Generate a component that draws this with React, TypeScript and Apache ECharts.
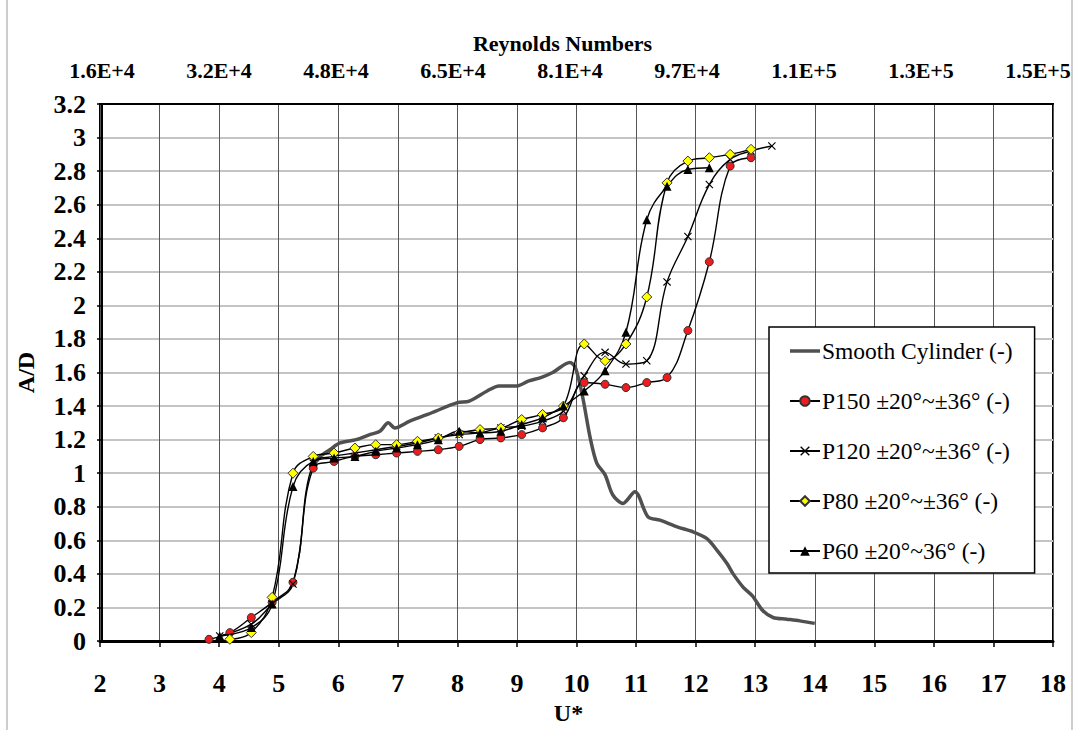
import React, { useEffect, useRef } from "react";
import * as echarts from "echarts";

// ---- data ----
const uSmooth = [5.55, 5.7, 5.86, 6.03, 6.3, 6.53, 6.7, 6.84, 6.95, 7.2, 7.5, 8.0, 8.2, 8.5, 8.7, 9.0, 9.2, 9.4, 9.6, 9.89, 9.98, 10.1, 10.23, 10.34, 10.48, 10.61, 10.78, 10.98, 11.2, 11.4, 11.69, 11.96, 12.19, 12.36, 12.53, 12.63, 12.8, 12.95, 13.13, 13.3, 13.53, 13.75, 14.0];
const adSmooth = [1.03, 1.1, 1.14, 1.18, 1.2, 1.23, 1.25, 1.3, 1.27, 1.31, 1.35, 1.42, 1.43, 1.49, 1.52, 1.52, 1.55, 1.57, 1.6, 1.66, 1.63, 1.46, 1.21, 1.06, 0.99, 0.87, 0.82, 0.89, 0.74, 0.72, 0.68, 0.65, 0.61, 0.54, 0.46, 0.4, 0.32, 0.27, 0.18, 0.14, 0.13, 0.12, 0.105];

const u150 = [3.83, 4.18, 4.54, 4.89, 5.24, 5.58, 5.93, 6.28, 6.63, 6.98, 7.33, 7.68, 8.03, 8.38, 8.73, 9.08, 9.43, 9.78, 10.13, 10.48, 10.83, 11.18, 11.52, 11.87, 12.23, 12.58, 12.93];
const ad150 = [0.01, 0.05, 0.14, 0.23, 0.35, 1.03, 1.07, 1.1, 1.11, 1.12, 1.13, 1.14, 1.16, 1.2, 1.21, 1.23, 1.27, 1.33, 1.54, 1.53, 1.51, 1.54, 1.57, 1.85, 2.26, 2.83, 2.88];

const u120 = [4.01, 4.54, 4.89, 5.24, 5.58, 5.93, 6.28, 6.63, 6.98, 7.33, 7.68, 8.03, 8.38, 8.73, 9.08, 9.43, 9.78, 10.13, 10.48, 10.83, 11.18, 11.52, 11.87, 12.23, 12.58, 12.93, 13.28];
const ad120 = [0.03, 0.1, 0.22, 0.34, 1.06, 1.1, 1.12, 1.14, 1.16, 1.18, 1.21, 1.23, 1.24, 1.27, 1.28, 1.31, 1.37, 1.58, 1.72, 1.65, 1.67, 2.14, 2.41, 2.72, 2.87, 2.92, 2.95];

const u80 = [4.18, 4.54, 4.89, 5.24, 5.58, 5.93, 6.28, 6.63, 6.98, 7.33, 7.68, 8.03, 8.38, 8.73, 9.08, 9.43, 9.78, 10.13, 10.48, 10.83, 11.18, 11.52, 11.87, 12.23, 12.58, 12.93];
const ad80 = [0.01, 0.05, 0.26, 1.0, 1.1, 1.12, 1.15, 1.17, 1.17, 1.19, 1.21, 1.24, 1.26, 1.27, 1.32, 1.35, 1.4, 1.77, 1.67, 1.77, 2.05, 2.73, 2.86, 2.88, 2.9, 2.93];

const u60 = [4.01, 4.54, 4.89, 5.24, 5.58, 5.93, 6.28, 6.63, 6.98, 7.33, 7.68, 8.03, 8.38, 8.73, 9.08, 9.43, 9.78, 10.13, 10.48, 10.83, 11.18, 11.52, 11.87, 12.23];
const ad60 = [0.03, 0.08, 0.22, 0.92, 1.07, 1.09, 1.1, 1.13, 1.15, 1.17, 1.2, 1.25, 1.24, 1.25, 1.29, 1.33, 1.4, 1.49, 1.61, 1.84, 2.51, 2.71, 2.81, 2.82];

const reynoldsLabels = ["1.6E+4", "3.2E+4", "4.8E+4", "6.5E+4", "8.1E+4", "9.7E+4", "1.1E+5", "1.3E+5", "1.5E+5"];
const reynoldsPositions = [0, 1, 2, 3, 4, 5, 6, 7, 8];

const seriesNames = ["Smooth Cylinder (-)", "P150 ±20°~±36° (-)", "P120 ±20°~±36° (-)", "P80 ±20°~±36° (-)", "P60 ±20°~36° (-)"];

const pairs = (u: number[], a: number[]) => u.map((x, i) => [x, a[i]]);

const FONT = "Liberation Serif";
const crossPath = "path://M0,1 L1,0 L5,4 L9,0 L10,1 L6,5 L10,9 L9,10 L5,6 L1,10 L0,9 L4,5 Z";
const thickLineIcon = "path://M0,0 L30,0 L30,3.5 L0,3.5 Z";

export default function App() {
  const ref = useRef<HTMLDivElement>(null);
  useEffect(() => {
    if (!ref.current) return;
    const chart = echarts.init(ref.current, null, { renderer: "svg" });
    const lineBlack = { color: "#000", width: 1.4 };
    const labelStyle = { fontFamily: FONT, fontSize: 26, fontWeight: "bold", color: "#000" };
    const nameStyle = { fontFamily: FONT, fontSize: 24, fontWeight: "bold", color: "#000" };
    const option: any = {
      animation: false,
      backgroundColor: "#fff",
      grid: { left: 100, right: 23, top: 104, bottom: 89, show: true, borderColor: "#000", borderWidth: 2, containLabel: false },
      graphic: [
        { type: "rect", shape: { x: 7, y: -2, width: 1065, height: 734 }, style: { fill: "none", stroke: "#bdbdbd", lineWidth: 1.5 }, silent: true },
      ],
      legend: {
        orient: "vertical",
        left: 769,
        top: 327,
        padding: [12, 22, 10, 20],
        itemGap: 26,
        itemWidth: 30,
        itemHeight: 12,
        borderColor: "#000",
        borderWidth: 1.5,
        backgroundColor: "#fff",
        data: [
          { name: seriesNames[0], icon: thickLineIcon },
          seriesNames[1],
          seriesNames[2],
          seriesNames[3],
          seriesNames[4],
        ],
        textStyle: { fontFamily: FONT, fontSize: 23.5, color: "#000", lineHeight: 24, padding: [0, 0, 0, -3] },
      },
      xAxis: [
        {
          type: "value",
          min: 2,
          max: 18,
          interval: 1,
          position: "bottom",
          name: "U*",
          nameLocation: "middle",
          nameGap: 58,
          nameTextStyle: { ...nameStyle, padding: [0, 16, 0, 0] },
          axisLine: { show: true, lineStyle: { color: "#000", width: 3 } },
          axisTick: { show: true, length: 6, lineStyle: { color: "#000", width: 1.5 } },
          axisLabel: { ...labelStyle, margin: 29 },
          splitLine: { show: true, lineStyle: { color: "#555", width: 1 } },
        },
        {
          type: "value",
          position: "top",
          min: -0.017,
          max: 8.128,
          name: "Reynolds Numbers",
          nameLocation: "middle",
          nameGap: 48,
          nameTextStyle: { fontFamily: FONT, fontSize: 22, fontWeight: "bold", color: "#000", padding: [0, 28, 0, 0] },
          axisLine: { show: true, lineStyle: { color: "#000", width: 2 } },
          axisTick: { show: false },
          splitLine: { show: false },
          axisLabel: {
            customValues: reynoldsPositions,
            formatter: (v: number) => reynoldsLabels[Math.round(v)] ?? "",
            fontFamily: FONT,
            fontSize: 22,
            fontWeight: "bold",
            color: "#000",
            margin: 23,
          },
        },
      ],
      yAxis: {
        type: "value",
        min: 0,
        max: 3.2,
        interval: 0.2,
        name: "A/D",
        nameLocation: "middle",
        nameGap: 62,
        nameTextStyle: nameStyle,
        axisLine: { show: true, lineStyle: { color: "#000", width: 2 } },
        axisTick: { show: true, length: 5, lineStyle: { color: "#000", width: 1.5 } },
        axisLabel: {
          ...labelStyle,
          margin: 14,
          formatter: (v: number) => String(parseFloat(v.toFixed(1))),
        },
        splitLine: { show: true, lineStyle: { color: "#c4c4c4", width: 2 } },
      },
      series: [
        {
          name: seriesNames[0],
          type: "line",
          data: pairs(uSmooth, adSmooth),
          smooth: 0.3,
          showSymbol: false,
          symbol: "none",
          lineStyle: { color: "#505050", width: 3.5 },
          itemStyle: { color: "#505050" },
          z: 2,
        },
        {
          name: seriesNames[1],
          type: "line",
          data: pairs(u150, ad150),
          smooth: 0.4,
          symbol: "circle",
          symbolSize: 8,
          lineStyle: lineBlack,
          itemStyle: { color: "#ee1c1c", borderColor: "#333", borderWidth: 1 },
          z: 3,
        },
        {
          name: seriesNames[2],
          type: "line",
          data: pairs(u120, ad120),
          smooth: 0.4,
          symbol: crossPath,
          symbolSize: 8,
          lineStyle: lineBlack,
          itemStyle: { color: "#000" },
          z: 3,
        },
        {
          name: seriesNames[3],
          type: "line",
          data: pairs(u80, ad80),
          smooth: 0.4,
          symbol: "diamond",
          symbolSize: 10,
          lineStyle: lineBlack,
          itemStyle: { color: "#ffff00", borderColor: "#333", borderWidth: 1 },
          z: 4,
        },
        {
          name: seriesNames[4],
          type: "line",
          data: pairs(u60, ad60),
          smooth: 0.4,
          symbol: "triangle",
          symbolSize: 9,
          lineStyle: lineBlack,
          itemStyle: { color: "#000" },
          z: 4,
        },
      ],
    };
    chart.setOption(option);
    return () => chart.dispose();
  }, []);
  return <div ref={ref} style={{ position: "absolute", left: 0, top: 0, width: 1076, height: 730 }} />;
}
